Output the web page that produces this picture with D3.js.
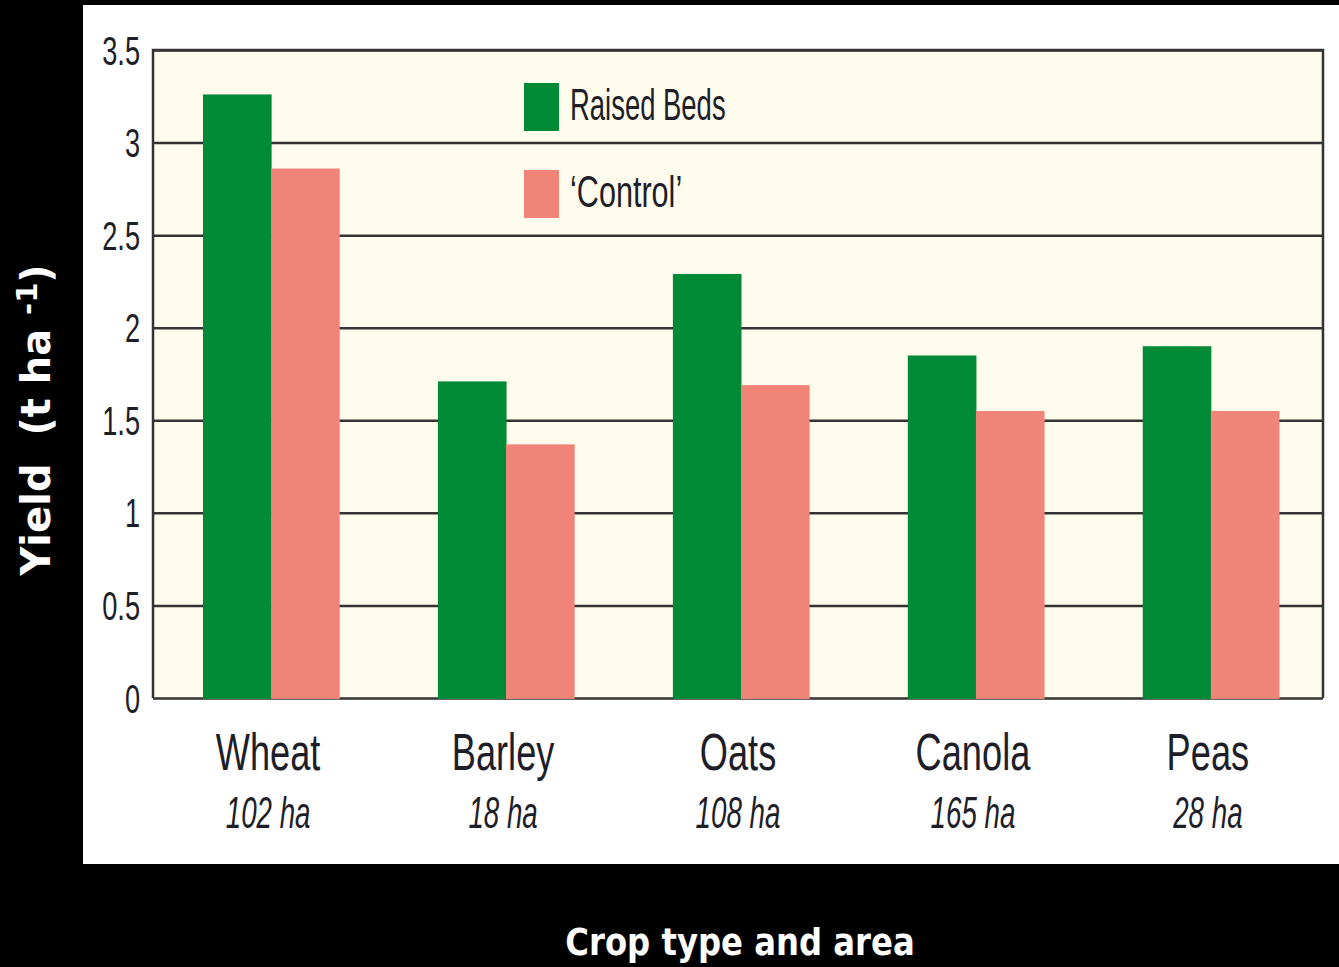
<!DOCTYPE html>
<html>
<head>
<meta charset="utf-8">
<script src="https://cdn.jsdelivr.net/npm/d3@7"></script>
<style>
  html, body { margin: 0; padding: 0; background: #000; }
  svg { display: block; }
</style>
</head>
<body>
<div id="chart"></div>
<script>
  // data
  const crops = ['Wheat', 'Barley', 'Oats', 'Canola', 'Peas'];
  const areas = ['102 ha', '18 ha', '108 ha', '165 ha', '28 ha'];
  const raisedBeds = [3.26, 1.71, 2.29, 1.85, 1.90];
  const control = [2.86, 1.37, 1.69, 1.55, 1.55];
  const seriesNames = ['Raised Beds', '\u2018Control\u2019'];
  const yTicks = [0, 0.5, 1, 1.5, 2, 2.5, 3, 3.5];

  const W = 1339, H = 967;
  const colors = ['#008a35', '#f08478'];
  const ink = '#1e1e28';
  const plot = { left: 153, right: 1323, top: 50, bottom: 698 };

  const svg = d3.select('#chart').append('svg')
    .attr('width', W).attr('height', H);

  svg.append('rect').attr('width', W).attr('height', H).attr('fill', '#000');
  svg.append('rect')
    .attr('x', 83).attr('y', 5).attr('width', W - 83).attr('height', 859)
    .attr('fill', '#fff');

  const x0 = d3.scaleBand()
    .domain(crops)
    .range([plot.left + 3, plot.right + 3])
    .paddingInner(0.42)
    .paddingOuter(0.2);
  const x1 = d3.scaleBand()
    .domain(seriesNames)
    .range([0, x0.bandwidth()]);
  const y = d3.scaleLinear()
    .domain([0, 3.5])
    .range([plot.bottom, plot.top]);

  // cream plot background
  svg.append('rect')
    .attr('x', plot.left).attr('y', plot.top)
    .attr('width', plot.right - plot.left).attr('height', plot.bottom - plot.top)
    .attr('fill', '#fffcee');

  // y axis with gridlines
  const yAxis = svg.append('g')
    .attr('transform', `translate(${plot.left},0)`)
    .call(d3.axisLeft(y).tickValues(yTicks).tickSize(-(plot.right - plot.left))
      .tickFormat(d => String(d)));
  yAxis.select('.domain').remove();
  yAxis.selectAll('line').attr('stroke', '#333').attr('stroke-width', 2.5);
  yAxis.selectAll('text')
    .attr('x', null).attr('dy', null)
    .attr('transform', 'translate(-13,14) scale(0.68,1)')
    .attr('fill', ink)
    .style('font-family', '"Liberation Sans", Arial, sans-serif')
    .style('font-size', '40px');

  // frame
  svg.append('path')
    .attr('d', `M${plot.left},${plot.bottom}V${plot.top}H${plot.right}V${plot.bottom}`)
    .attr('fill', 'none').attr('stroke', '#333').attr('stroke-width', 2.5);

  // bars
  const rows = crops.map((c, i) => ({ crop: c, vals: [raisedBeds[i], control[i]] }));
  svg.append('g').selectAll('g')
    .data(rows)
    .join('g')
      .attr('transform', d => `translate(${x0(d.crop)},0)`)
    .selectAll('rect')
    .data(d => d.vals.map((v, k) => ({ key: seriesNames[k], v, k })))
    .join('rect')
      .attr('x', d => x1(d.key))
      .attr('width', x1.bandwidth() + 0.5)
      .attr('y', d => y(d.v))
      .attr('height', d => y(0) - y(d.v) + 1)
      .attr('fill', d => colors[d.k]);

  // category labels
  const cat = svg.append('g').selectAll('g')
    .data(crops)
    .join('g')
      .attr('transform', d => `translate(${x0(d) + x0.bandwidth() / 2 - 3},0)`);
  cat.append('text')
    .attr('transform', 'translate(0,770) scale(0.71,1)')
    .attr('text-anchor', 'middle')
    .attr('fill', ink)
    .style('font-family', '"Liberation Sans", Arial, sans-serif')
    .style('font-size', '51px')
    .text(d => d);
  cat.append('text')
    .attr('transform', 'translate(0,828) scale(0.63,1)')
    .attr('text-anchor', 'middle')
    .attr('fill', ink)
    .style('font-family', '"Liberation Sans", Arial, sans-serif')
    .style('font-style', 'italic')
    .style('font-size', '44px')
    .text((d, i) => areas[i]);

  // legend
  const leg = svg.append('g').selectAll('g')
    .data(seriesNames)
    .join('g')
      .attr('transform', (d, i) => `translate(524,${83 + i * 87})`);
  leg.append('rect')
    .attr('width', 35).attr('height', 48)
    .attr('fill', (d, i) => colors[i]);
  leg.append('text')
    .attr('transform', (d, i) => `translate(46,37) scale(${i ? 0.68 : 0.61},1)`)
    .attr('fill', ink)
    .style('font-family', '"Liberation Sans", Arial, sans-serif')
    .style('font-size', '45px')
    .text(d => d);

  // axis titles
  const yt = svg.append('text')
    .attr('transform', 'translate(50,420) rotate(-90)')
    .attr('text-anchor', 'middle')
    .attr('fill', '#fff')
    .style('font-family', '"DejaVu Sans", Verdana, sans-serif')
    .style('font-weight', 'bold')
    .style('font-size', '40px');
  yt.append('tspan').text('Yield\u00a0\u00a0(t ha ');
  yt.append('tspan').attr('dy', -13).style('font-size', '29px').text('-1');
  yt.append('tspan').attr('dy', 13).text(')');

  svg.append('text')
    .attr('transform', 'translate(740,955) scale(0.85,1)')
    .attr('text-anchor', 'middle')
    .attr('fill', '#fff')
    .style('font-family', '"DejaVu Sans", Verdana, sans-serif')
    .style('font-weight', 'bold')
    .style('font-size', '38px')
    .text('Crop type and area');
</script>
</body>
</html>
